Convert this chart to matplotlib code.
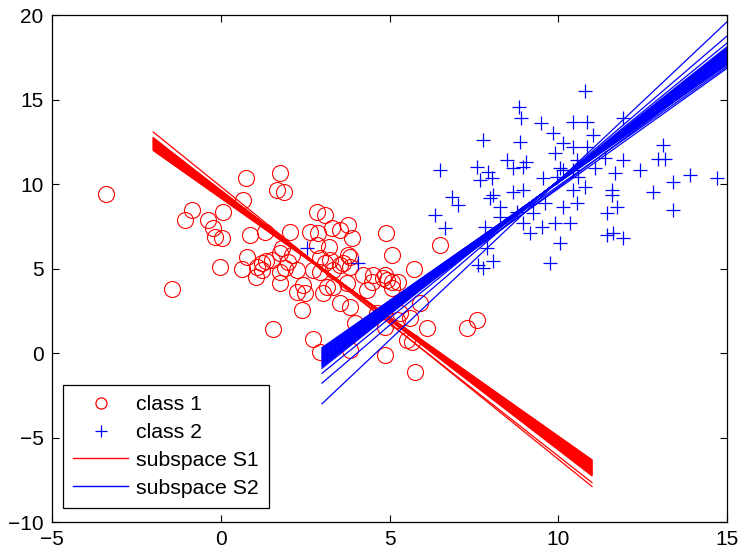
import matplotlib
matplotlib.use("Agg")
import matplotlib.pyplot as plt
from matplotlib.lines import Line2D

plt.rcParams['font.family'] = ['Liberation Sans', 'DejaVu Sans']

# class 1 (red circles)
c1_x = [-3.40, 0.75, 1.76, 1.67, 1.87, 0.66, -0.85, -1.06, -0.38, 0.07, -0.23, -0.17, 0.04,
        0.87, 1.31, 0.78, 0.63, -0.02, 1.07, 1.22, 1.34, 1.04, 1.76, 1.76, 1.76, -1.44, 1.55,
        2.85, 3.09, 2.05, 2.64, 2.87, 3.30, 3.53, 3.77, 3.89, 4.90, 2.85, 3.21, 1.82, 2.11,
        1.99, 1.90, 1.52, 1.22, 2.94, 3.09, 3.24, 3.77, 3.83, 3.53, 2.73, 2.26, 5.07, 5.07,
        2.44, 2.26, 3.74, 4.21, 4.48, 4.81, 3.15, 3.03, 4.33, 5.73, 6.50, 2.41, 2.73, 2.94,
        3.83, 3.98, 3.83, 3.53, 3.33, 4.93, 5.25, 5.61, 5.90, 5.52, 6.11, 7.30, 4.87, 5.76,
        4.63, 5.22, 4.87, 5.67, 7.59, 2.50, 5.32, 5.07, 4.87, 4.52, 3.83, 2.94, 3.33, 3.63]
c1_y = [9.41, 10.36, 10.65, 9.64, 9.53, 9.05, 8.46, 7.87, 7.87, 8.34, 7.40, 6.86, 6.80,
        6.98, 7.16, 5.68, 4.97, 5.09, 5.09, 5.33, 5.44, 4.50, 5.92, 4.79, 4.14, 3.79, 1.42,
        8.34, 8.17, 7.16, 7.16, 7.10, 7.40, 7.28, 7.57, 6.80, 7.10, 6.39, 6.27, 6.21, 5.80,
        5.38, 5.03, 5.50, 4.91, 5.62, 5.33, 5.50, 5.80, 5.09, 5.21, 4.91, 4.91, 5.80, 4.20,
        4.02, 3.61, 4.14, 4.62, 4.20, 4.44, 3.91, 3.55, 3.73, 4.97, 6.39, 2.54, 0.83, 0.06,
        0.18, 1.78, 2.72, 2.96, 3.91, 4.32, 4.20, 2.07, 2.96, 0.77, 1.48, 1.48, -0.12, -1.12,
        2.37, 1.95, 1.54, 0.65, 1.95, 3.55, 2.37, 3.85, 4.62, 4.62, 5.68, 4.79, 4.91, 5.33]

# class 2 (blue crosses)
c2_x = [8.84, 8.90, 9.49, 9.84, 10.43, 7.77, 8.87, 10.13, 10.43, 9.90, 8.48, 9.05, 10.56,
        7.59, 7.92, 8.66, 8.96, 10.05, 6.50, 7.68, 8.04, 9.55, 9.96, 10.43, 10.14, 8.96,
        8.66, 8.07, 7.98, 6.85, 7.03, 6.35, 8.27, 9.61, 10.14, 10.43, 8.78, 8.27, 9.25,
        8.96, 9.52, 9.90, 10.35, 9.16, 6.65, 7.83, 10.05, 7.89, 9.76, 7.77, 7.62, 8.07,
        10.79, 10.85, 11.92, 11.03, 13.10, 12.96, 13.17, 10.85, 11.38, 11.92, 12.42, 13.90,
        14.70, 13.40, 11.09, 11.68, 10.59, 10.79, 11.59, 11.59, 12.81, 11.74, 10.56, 11.44,
        13.40, 11.62, 11.44, 11.92, 2.56, 4.07]
c2_y = [14.56, 13.91, 13.61, 13.02, 13.67, 12.60, 12.49, 12.43, 12.20, 11.83, 11.42, 11.30,
        11.42, 11.01, 10.71, 10.95, 11.01, 10.95, 10.83, 10.24, 10.36, 10.36, 10.41, 10.83,
        10.83, 9.64, 9.53, 9.35, 9.17, 9.23, 8.76, 8.17, 8.64, 8.88, 8.64, 9.64, 8.34, 8.05,
        8.28, 7.69, 7.46, 7.69, 7.69, 7.10, 7.40, 7.46, 6.51, 6.21, 5.33, 5.03, 5.21, 5.44,
        15.50, 13.67, 13.91, 12.90, 12.31, 11.48, 11.48, 12.20, 11.54, 11.42, 10.83, 10.53,
        10.36, 10.12, 10.95, 10.65, 10.41, 9.82, 9.64, 9.35, 9.53, 8.64, 8.88, 8.28,
        8.46, 7.10, 6.98, 6.80, 6.21, 5.33]

# subspace S1 lines: y at x = -2 and at x = 11
s1_x = [-2, 11]
s1_start = [11.98, 12.02, 12.06, 12.10, 12.13, 12.16, 12.20, 12.23, 12.26, 12.29, 12.32,
            12.35, 12.38, 12.41, 12.44, 12.47, 12.50, 12.53, 12.56, 12.59, 12.62, 12.65,
            12.68, 12.71, 12.75, 13.08]
s1_end = [-6.32, -6.36, -6.40, -6.45, -6.49, -6.53, -6.57, -6.61, -6.65, -6.69, -6.73,
          -6.77, -6.81, -6.85, -6.89, -6.93, -6.97, -7.01, -7.05, -7.09, -7.13, -7.17,
          -7.21, -7.27, -7.67, -7.90]

# subspace S2 lines: y at x = 3 and at x = 15
s2_x = [3, 15]
s2_start = [0.32, 0.26, 0.20, 0.14, 0.08, 0.02, -0.04, -0.10, -0.16, -0.22, -0.28, -0.34,
            -0.40, -0.46, -0.52, -0.58, -0.64, -0.70, -0.76, -0.82, -0.90, -0.55, -0.25,
            0.00, -1.20, -1.78, -3.00]
s2_end = [17.05, 17.10, 17.16, 17.22, 17.28, 17.34, 17.40, 17.45, 17.50, 17.55, 17.60, 17.65,
          17.70, 17.75, 17.80, 17.85, 17.90, 17.95, 18.00, 18.05, 18.12, 17.20, 16.85,
          16.95, 18.34, 18.76, 19.60]

RED = (1, 0, 0)
BLUE = (0, 0, 1)

fig = plt.figure(figsize=(7.43, 5.58), dpi=100)
ax = fig.add_axes([0.070, 0.0645, 0.9085, 0.9085])

ax.plot(c1_x, c1_y, 'o', mfc='none', mec=RED, ms=11.5, mew=0.8)
ax.plot(c2_x, c2_y, '+', color=BLUE, ms=10, mew=0.9)
for a, b in zip(s1_start, s1_end):
    ax.plot(s1_x, [a, b], '-', color=RED, lw=0.9)
for a, b in zip(s2_start, s2_end):
    ax.plot(s2_x, [a, b], '-', color=BLUE, lw=0.9)

ax.set_xlim(-5, 15)
ax.set_ylim(-10, 20)
ax.set_xticks([-5, 0, 5, 10, 15])
ax.set_yticks([-10, -5, 0, 5, 10, 15, 20])
ax.tick_params(direction='in', top=True, right=True, length=5, width=0.8, labelsize=15, pad=6)
for s in ax.spines.values():
    s.set_linewidth(0.9)

handles = [Line2D([], [], ls='none', marker='o', mfc='none', mec=RED, ms=8, mew=0.9),
           Line2D([], [], ls='none', marker='+', color=BLUE, ms=8, mew=0.9),
           Line2D([], [], color=RED, lw=1.0),
           Line2D([], [], color=BLUE, lw=1.0)]
leg = ax.legend(handles, ['class 1', 'class 2', 'subspace S1', 'subspace S2'],
                loc='lower left', bbox_to_anchor=(0.0163, 0.0276), borderaxespad=0,
                fontsize=15.3, fancybox=False, framealpha=1, edgecolor='black',
                handlelength=2.6, labelspacing=0.42, borderpad=0.48, handletextpad=0.35)
leg.get_frame().set_linewidth(0.9)

fig.savefig('out.png', dpi=100)
